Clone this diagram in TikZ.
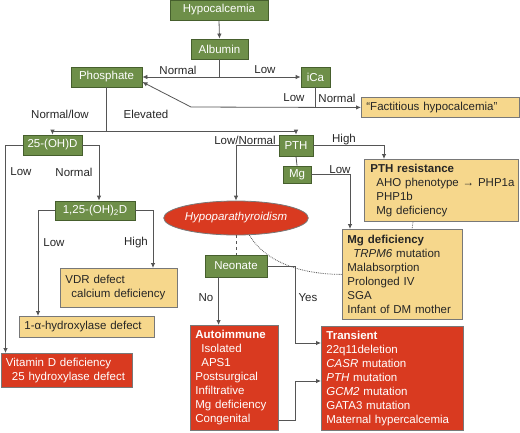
\documentclass[tikz,border=0pt]{standalone}
\usepackage{fontspec}
\setmainfont{Liberation Sans}
\usetikzlibrary{calc,shapes.geometric,arrows.meta}
\definecolor{gfill}{RGB}{110,143,73}
\definecolor{gedge}{RGB}{70,95,45}
\definecolor{yfill}{RGB}{246,215,140}
\definecolor{rfill}{RGB}{217,58,32}
\definecolor{bedge}{RGB}{120,120,120}
\definecolor{lcol}{RGB}{85,85,85}
\begin{document}
\begin{tikzpicture}[x=1pt,y=-1pt,
  font=\fontsize{11.5}{14}\selectfont,
  gbox/.style={draw=gedge, fill=gfill, text=white, inner sep=0pt, line width=0.8pt},
  ybox/.style={draw=bedge, fill=yfill, text=black!85, anchor=north west, inner xsep=5pt, inner ysep=0pt, align=left, line width=0.8pt},
  rbox/.style={draw=bedge, fill=rfill, text=white, anchor=north west, inner xsep=5pt, inner ysep=0pt, align=left, line width=0.8pt},
  conn/.style={draw=lcol, line width=0.8pt},
  arr/.style={conn, -{Latex[length=5pt,width=4.5pt]}},
  lab/.style={inner sep=0pt, text=black!85}]
\useasboundingbox (0,0) rectangle (520,432);

% green decision boxes
\node[gbox, minimum width=98pt, minimum height=20pt] (hyp) at (219,10) {Hypocalcemia};
\node[gbox, minimum width=57pt, minimum height=20pt] (alb) at (219.5,49) {Albumin};
\node[gbox, minimum width=71pt, minimum height=20pt] (phos) at (106.5,77) {Phosphate};
\node[gbox, minimum width=29pt, minimum height=20pt] (ica) at (315.5,77) {iCa};
\node[gbox, minimum width=59pt, minimum height=20pt] (ohd) at (52.5,145) {25-(OH)D};
\node[gbox, minimum width=34pt, minimum height=21pt] (pth) at (296,145.5) {PTH};
\node[gbox, minimum width=28pt, minimum height=17pt] (mg) at (297,174.5) {Mg};
\node[gbox, minimum width=80pt, minimum height=19pt] (d125) at (95,210.5) {1,25-(OH)\textsubscript{2}D};
\node[gbox, minimum width=62pt, minimum height=22pt] (neo) at (236,266) {Neonate};

% ellipse
\node[ellipse, draw=bedge, fill=rfill, text=white, minimum width=139pt, minimum height=34pt, inner sep=0pt, line width=0.8pt] (hypo) at (236,218) {\itshape Hypoparathyroidism};

% yellow boxes
\node[ybox, text width=148pt, minimum height=20pt] (fact) at (361,97) {“Factitious hypocalcemia”};
\node[ybox, inner xsep=1pt, text width=152pt, minimum height=62pt] (pthres) at (364,159) {\hspace*{5pt}\textbf{PTH resistance}\\\hspace*{11pt}AHO phenotype {\bfseries →} PHP1a\\\hspace*{11pt}PHP1b\\\hspace*{11pt}Mg deficiency};
\node[ybox, text width=110pt, minimum height=90pt] (mgdef) at (342,229) {\textbf{Mg deficiency}\\\hspace*{6pt}\textit{TRPM6} mutation\\Malabsorption\\Prolonged IV\\SGA\\Infant of DM mother};
\node[ybox, text width=107pt, minimum height=39pt] (vdr) at (60,268) {VDR defect\\\hspace*{6pt}calcium deficiency};
\node[ybox, text width=125pt, minimum height=21pt] (alpha) at (19,316) {1-α-hydroxylase defect};

% red boxes
\node[rbox, text width=121pt, minimum height=34pt] (vitd) at (0.5,353) {Vitamin D deficiency\\\hspace*{6pt}25 hydroxylase defect};
\node[rbox, text width=78pt, minimum height=105pt] (auto) at (190,325) {\textbf{Autoimmune}\\\hspace*{6pt}Isolated\\\hspace*{6pt}APS1\\Postsurgical\\Infiltrative\\Mg deficiency\\Congenital};
\node[rbox, text width=132pt, minimum height=104pt] (trans) at (321,326) {\textbf{Transient}\\22q11deletion\\\textit{CASR} mutation\\\textit{PTH} mutation\\\textit{GCM2} mutation\\GATA3 mutation\\Maternal hypercalcemia};

% connectors
\draw[arr] (hyp.south) -- (alb.north);
\draw[arr] (alb.south) |- (phos.east);
\draw[arr] (alb.south) |- (ica.west);
\coordinate (c1) at (191,107);
\draw[arr] (ica.south) |- (fact.west);
\draw[arr] (ica.south |- fact.west) -- (c1) -- ([yshift=-5pt]phos.east);
\draw[arr] (phos.south) -- ++(0,44) -| (ohd.north);
\draw[arr] (phos.south) -- ++(0,44) -| (pth.north);
\draw[arr] (pth.west) -| (hypo.north);
\draw[conn] (pth.south) -- (mg.north);
\draw[arr] (pth.east) -| ($(pthres.north west)+(20,0)$);
\draw[arr] (mg.east) -| ($(mgdef.north west)+(8,0)$);
\draw[conn, densely dotted] ($(pthres.south west)+(49,0)$) -- ($(mgdef.north west)+(70,0)$);
\draw[conn, dashed] (hypo.south) -- (neo.north);
\draw[conn, densely dotted] (hypo.-52) .. controls +(18,30) and +(-35,0) .. ($(mgdef.west)+(0,0)$);
\coordinate (nb) at ($(neo.south west)+(14,0)$);
\draw[arr] (nb) -- (nb |- auto.north);
\coordinate (ya) at (295,343);
\draw[arr] (neo.east) -| (ya) -- (ya -| trans.west);
\coordinate (ab) at (295,381);
\draw[arr] (auto.east |- 0,420) -| (ab) -- (ab -| trans.west);
\draw[arr] (ohd.west) -| ($(vitd.north west)+(5,0)$);
\draw[arr] (ohd.east) -| ($(d125.north)+(4,0)$);
\draw[arr] (d125.west) -| ($(alpha.north west)+(19,0)$);
\draw[arr] (d125.east) -| ($(vdr.north west)+(93,0)$);

% labels
\node[lab] (l1) at (178,70) {Normal};
\node[lab] (l2) at (265,70) {Low};
\node[lab] (l3) at (294,98) {Low};
\node[lab] (l4) at (337,98) {Normal};
\node[lab] (l5) at (60,114) {Normal/low};
\node[lab] (l6) at (146,114) {Elevated};
\node[lab] (l7) at (245,140) {Low/Normal};
\node[lab] (l8) at (344,140) {High};
\node[lab] (l9) at (340,170) {Low};
\node[lab] (l10) at (21,172) {Low};
\node[lab] (l11) at (74,172) {Normal};
\node[lab] (l12) at (54,243) {Low};
\node[lab] (l13) at (136,243) {High};
\node[lab] (l14) at (206,298) {No};
\node[lab] (l15) at (308,298) {Yes};
\end{tikzpicture}
\end{document}
